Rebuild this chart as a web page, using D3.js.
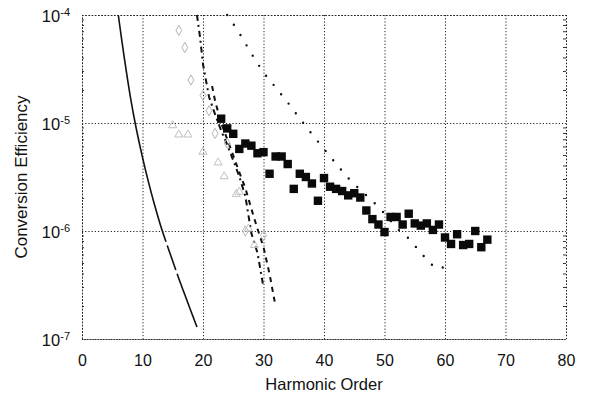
<!DOCTYPE html>
<html><head><meta charset="utf-8">
<script src="https://cdn.jsdelivr.net/npm/d3@7"></script>
<style>body{margin:0;background:#fff}svg{display:block}text{font-family:"Liberation Sans",Arial,sans-serif;fill:#111}</style>
</head><body><svg id="c" width="590" height="396"></svg>
<script>
// ---- data ----
const xTicks = [0,10,20,30,40,50,60,70,80];
const yTickExps = [-7,-6,-5,-4];
// solid curve
const solidH = [6,7,8,9,10,11,12,13,14,15,16,17,18,19];
const solidV = [1.0e-4,3.98e-5,1.74e-5,8.7e-6,4.8e-6,2.82e-6,1.74e-6,1.12e-6,7.6e-7,5.25e-7,3.63e-7,2.57e-7,1.82e-7,1.29e-7];
// dotted curve
const dotH = [24,26,28,30,32,34,36,38,40,42,44,46,48,50,52,54,56,58,59,60];
const dotV = [1.0e-4,6.8e-5,4.4e-5,2.95e-5,2.14e-5,1.55e-5,1.1e-5,7.9e-6,5.75e-6,4.2e-6,3.1e-6,2.4e-6,1.9e-6,1.45e-6,1.07e-6,8.5e-7,6.3e-7,4.8e-7,4.5e-7,4.7e-7];
// dash-dot curve
const ddH = [19,19.5,20,21,22,23,24,25,26,27,28,29,30];
const ddV = [1.0e-4,6.3e-5,3.5e-5,1.74e-5,1.2e-5,8.5e-6,6.3e-6,4.5e-6,3.2e-6,2.1e-6,9.5e-7,6.3e-7,3.0e-7];
// dashed curve
const dsH = [21.5,22,23,24,25,26,27,28,29,30,31,32];
const dsV = [2.2e-5,1.6e-5,1.0e-5,7.1e-6,5.0e-6,3.5e-6,2.5e-6,1.6e-6,1.05e-6,7.1e-7,4.0e-7,2.0e-7];
// filled squares
const sqH = [23,24,25,26,27,28,29,30,31,32,33,34,35,36,37,38,39,40,41,42,43,44,45,46,47,48,49,50,51,52,53,54,55,56,57,58,59,60,61,62,63,64,65,66,67];
const sqExp = [-4.96,-5.05,-5.10,-5.24,-5.19,-5.21,-5.28,-5.27,-5.47,-5.31,-5.31,-5.38,-5.61,-5.47,-5.50,-5.56,-5.72,-5.51,-5.59,-5.61,-5.63,-5.67,-5.65,-5.69,-5.81,-5.89,-5.94,-6.01,-5.87,-5.87,-5.94,-5.84,-5.93,-5.95,-5.93,-5.99,-5.94,-6.06,-6.12,-6.03,-6.13,-6.12,-6.00,-6.15,-6.08];
// open diamonds (faint)
const diaH = [16,17,18,20,21,22,24,27,30];
const diaV = [7.2e-5,5.0e-5,2.5e-5,1.8e-5,1.3e-5,8.0e-6,6.5e-6,1.0e-6,9.1e-7];
// open triangles (faint)
const triH = [15,16,17.5,20,22.5,23.5,25.5,26,27.5,28.5];
const triV = [9.5e-6,7.8e-6,7.8e-6,5.4e-6,4.3e-6,3.2e-6,2.2e-6,2.3e-6,1.05e-6,7.4e-7];

// ---- chart ----
const svg = d3.select("#c");
const L=82,R=566,T=15,B=339;
const x = d3.scaleLinear().domain([0,80]).range([L,R]);
const y = d3.scaleLog().domain([1e-7,1e-4]).range([B,T]);

const grid = svg.append("g").attr("stroke","#222").attr("stroke-width",1).attr("stroke-dasharray","1.2,2");
grid.selectAll(".gx").data(xTicks).join("line").attr("x1",d=>x(d)+0.5).attr("x2",d=>x(d)+0.5).attr("y1",T).attr("y2",B);
grid.selectAll(".gy").data(yTickExps).join("line").attr("x1",L).attr("x2",R).attr("y1",d=>Math.round(y(Math.pow(10,d)))+0.5).attr("y2",d=>Math.round(y(Math.pow(10,d)))+0.5);

// minor ticks
const minor = [];
for (let e=-7;e<-4;e++) for (let m=2;m<10;m++) minor.push(m*Math.pow(10,e));
svg.append("g").attr("stroke","#333").selectAll("line").data(minor).join("line")
  .attr("x1",R-3).attr("x2",R).attr("y1",d=>y(d)).attr("y2",d=>y(d));
svg.append("g").attr("stroke","#333").selectAll("line").data(minor).join("line")
  .attr("x1",L).attr("x2",L+2).attr("y1",d=>y(d)).attr("y2",d=>y(d));

// axes (labels)
const xAxis = svg.append("g").attr("transform",`translate(0,${B})`)
  .call(d3.axisBottom(x).tickValues(xTicks).tickSize(0).tickPadding(16).tickFormat(d3.format("d")));
xAxis.select(".domain").remove();
xAxis.selectAll("text").attr("font-size",16).attr("font-family","Liberation Sans, Arial, sans-serif").attr("fill","#111");

const yAxis = svg.append("g").attr("transform",`translate(${L},0)`)
  .call(d3.axisLeft(y).tickValues(yTickExps.map(e=>Math.pow(10,e))).tickSize(0).tickFormat(""));
yAxis.select(".domain").remove();
yAxis.selectAll(".tick").each(function(d){
  const t = d3.select(this).append("text").attr("x",-12).attr("dy","0.38em").attr("text-anchor","end").attr("font-size",16.5);
  t.append("tspan").text("10");
  t.append("tspan").attr("dy","-0.5em").attr("font-size",11).text(String(Math.round(Math.log10(d))));
});

svg.append("text").attr("x",(L+R)/2).attr("y",390).attr("text-anchor","middle").attr("font-size",16.5).text("Harmonic Order");
svg.append("text").attr("transform",`translate(27,${(T+B)/2}) rotate(-90)`).attr("text-anchor","middle").attr("font-size",17).text("Conversion Efficiency");

// clip
svg.append("clipPath").attr("id","clip").append("rect").attr("x",L).attr("y",T-2).attr("width",R-L).attr("height",B-T+4);
const plot = svg.append("g").attr("clip-path","url(#clip)");
const line = d3.line().x(d=>x(d[0])).y(d=>y(d[1])).curve(d3.curveMonotoneX);

plot.append("path").datum(solidH.map((h,i)=>[h,solidV[i]])).attr("d",d3.line().x(d=>x(d[0])).y(d=>y(d[1])).curve(d3.curveCatmullRom))
  .attr("fill","none").attr("stroke","#111").attr("stroke-width",1.6).attr("stroke-dasharray","232,4,26,4,400");
plot.append("path").datum(dotH.map((h,i)=>[h,dotV[i]])).attr("d",line)
  .attr("fill","none").attr("stroke","#111").attr("stroke-width",2.4).attr("stroke-linecap","round").attr("stroke-dasharray","0,12");
plot.append("path").datum(ddH.map((h,i)=>[h,ddV[i]])).attr("d",d3.line().x(d=>x(d[0])).y(d=>y(d[1])))
  .attr("fill","none").attr("stroke","#111").attr("stroke-width",2).attr("stroke-dasharray","6,4,2,4");
plot.append("path").datum(dsH.map((h,i)=>[h,dsV[i]])).attr("d",d3.line().x(d=>x(d[0])).y(d=>y(d[1])))
  .attr("fill","none").attr("stroke","#111").attr("stroke-width",2).attr("stroke-dasharray","5,5");

// faint open markers
plot.append("g").selectAll("path").data(diaH.map((h,i)=>[h,diaV[i]])).join("path")
  .attr("d",d3.symbol(d3.symbolDiamond,30)).attr("transform",d=>`translate(${x(d[0])},${y(d[1])})`)
  .attr("fill","none").attr("stroke","#b4b4b4").attr("stroke-width",1);
plot.append("g").selectAll("path").data(triH.map((h,i)=>[h,triV[i]])).join("path")
  .attr("d",d3.symbol(d3.symbolTriangle,28)).attr("transform",d=>`translate(${x(d[0])},${y(d[1])})`)
  .attr("fill","none").attr("stroke","#c0c0c0").attr("stroke-width",1);

// squares
plot.append("g").selectAll("rect").data(sqH.map((h,i)=>[h,Math.pow(10,sqExp[i])])).join("rect")
  .attr("x",d=>x(d[0])-4.2).attr("y",d=>y(d[1])-4.2).attr("width",8.4).attr("height",8.4).attr("fill","#0a0a0a");

// border
svg.append("rect").attr("x",L+0.5).attr("y",T+0.5).attr("width",R-L).attr("height",B-T)
  .attr("fill","none").attr("stroke","#222").attr("stroke-dasharray","1.2,2");
</script></body></html>
